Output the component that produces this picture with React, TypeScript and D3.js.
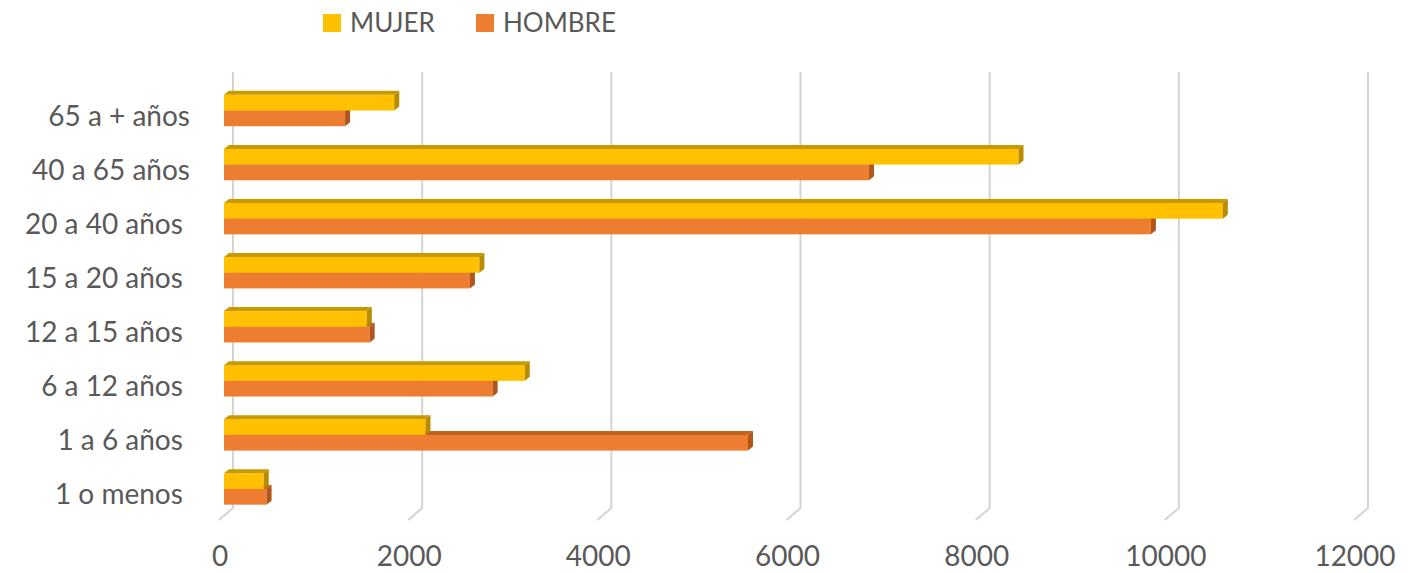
import React from "react";
import * as d3 from "d3";

const categories = [
  "65 a + años",
  "40 a 65 años",
  "20 a 40 años ",
  "15 a 20 años ",
  "12 a 15 años ",
  "6 a 12 años ",
  "1 a 6 años ",
  "1 o menos ",
];
const mujer = [1800, 8400, 10560, 2700, 1510, 3180, 2130, 420];
const hombre = [1280, 6820, 9800, 2600, 1540, 2840, 5540, 450];
const ticks = [0, 2000, 4000, 6000, 8000, 10000, 12000];

const series = [
  { name: "MUJER", values: mujer, front: "#FFC000", top: "#C99A00", side: "#B98B00" },
  { name: "HOMBRE", values: hombre, front: "#ED7D31", top: "#C2621F", side: "#B0561C" },
];

const W = 1415;
const H = 573;
const font = "Lato, 'Open Sans', sans-serif";
const textColor = "#595959";

// 3D offsets
const depthX = 5;
const depthY = -4;
const floorDX = -14;
const floorDY = 12;

const App: React.FC = () => {
  // back wall scale
  const xBack = d3.scaleLinear().domain([0, 12000]).range([233, 1368]);
  // bar front plane scale
  const xFront = d3.scaleLinear().domain([0, 12000]).range([224, 1359]);

  const y = d3
    .scaleBand<string>()
    .domain(categories)
    .range([83.5, 516])
    .paddingInner(0.42)
    .paddingOuter(0.21);

  const sub = d3
    .scaleBand<string>()
    .domain(series.map((s) => s.name))
    .range([0, y.bandwidth()]);

  const wallTop = 72;
  const wallBottom = 508;

  // draw HOMBRE first so MUJER covers its top face
  const drawOrder = [...series].reverse();

  return (
    <svg
      width={W}
      height={H}
      style={{ position: "absolute", left: 0, top: 0, background: "#fff" }}
      fontFamily={font}
    >
      {/* gridlines */}
      <g>
        {ticks.map((t) => {
          const bx = xBack(t);
          return (
            <g key={t}>
              <path
                d={`M${bx},${wallTop}V${wallBottom}L${bx + floorDX},${wallBottom + floorDY}`}
                fill="none"
                stroke="#D4D4D4"
                strokeWidth={2}
              />
              <text
                x={bx - 13}
                y={566}
                textAnchor="middle"
                fontSize={28}
                fill={textColor}
              >
                {t}
              </text>
            </g>
          );
        })}
      </g>

      {/* bars */}
      <g>
        {categories.map((c, i) => (
          <g key={c}>
            {drawOrder.map((s) => {
              const x0 = xFront(0);
              const x1 = xFront(s.values[i]);
              const y0 = (y(c) ?? 0) + (sub(s.name) ?? 0);
              const h = sub.bandwidth();
              return (
                <g key={s.name}>
                  <rect x={x0} y={y0} width={x1 - x0} height={h} fill={s.front} />
                  <polygon
                    points={`${x0},${y0} ${x0 + depthX},${y0 + depthY} ${x1 + depthX},${y0 + depthY} ${x1},${y0}`}
                    fill={s.top}
                  />
                  <polygon
                    points={`${x1},${y0} ${x1 + depthX},${y0 + depthY} ${x1 + depthX},${y0 + h + depthY} ${x1},${y0 + h}`}
                    fill={s.side}
                  />
                </g>
              );
            })}
          </g>
        ))}
      </g>

      {/* category labels */}
      <g>
        {categories.map((c) => (
          <text
            key={c}
            x={190}
            y={(y(c) ?? 0) + y.bandwidth() / 2 + 15}
            textAnchor="end"
            fontSize={28}
            fill={textColor}
            style={{ whiteSpace: "pre" }}
          >
            {c}
          </text>
        ))}
      </g>

      {/* legend */}
      <g>
        {series.map((s, i) => {
          const lx = 323 + i * 153;
          return (
            <g key={s.name}>
              <rect x={lx} y={14} width={18} height={18} fill={s.front} />
              <text x={lx + 27} y={32} fontSize={26} fill={textColor}>
                {s.name}
              </text>
            </g>
          );
        })}
      </g>
    </svg>
  );
};

export default App;
